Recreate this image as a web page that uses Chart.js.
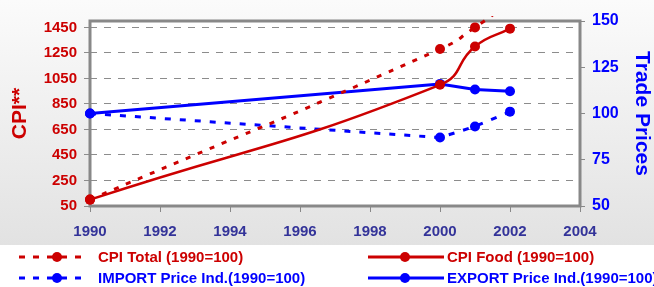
<!DOCTYPE html>
<html lang="en">
<head>
    <meta charset="UTF-8">
    <title>CPI and Trade Prices</title>
    <script src="https://cdn.jsdelivr.net/npm/chart.js"></script>
    <style>
        body {
            margin: 0;
            padding: 0;
            background: #ffffff;
        }
        .wrap {
            width: 654px;
            height: 287px;
        }
    </style>
</head>
<body>
    <div class="wrap">
        <canvas id="cpiChart" width="654" height="287"></canvas>
    </div>

    <script>
        // data
        const years = [1990, 2000, 2001, 2002];
        const cpiTotal = [100, 1280, 1450, 1650];
        const cpiFood = [100, 1000, 1300, 1440];
        const importPrice = [100, 87, 93, 101];
        const exportPrice = [100, 116, 113, 112];
        const cpiTicks = [50, 250, 450, 650, 850, 1050, 1250, 1450];

        const FONT = '"Liberation Sans", Arial, sans-serif';
        const RED = '#cc0000';
        const BLUE = '#0000ff';

        function points(values) {
            return years.map((y, i) => ({ x: y, y: values[i] }));
        }

        // background, white plot area and grey frame
        const framePlugin = {
            id: 'frame',
            beforeDraw(chart) {
                const ctx = chart.ctx;
                const g = ctx.createLinearGradient(0, 0, 0, 245);
                g.addColorStop(0, '#fbfbfb');
                g.addColorStop(1, '#e2e2e2');
                ctx.save();
                ctx.fillStyle = g;
                ctx.fillRect(0, 0, chart.width, 245);
                ctx.fillStyle = '#ffffff';
                ctx.fillRect(0, 245, chart.width, chart.height - 245);
                const a = chart.chartArea;
                ctx.fillRect(a.left, a.top, a.right - a.left, a.bottom - a.top);
                ctx.restore();
            },
            beforeDatasetsDraw(chart) {
                const ctx = chart.ctx;
                const a = chart.chartArea;
                ctx.save();
                ctx.strokeStyle = '#888888';
                ctx.lineWidth = 3;
                ctx.strokeRect(a.left, a.top, a.right - a.left, a.bottom - a.top);
                ctx.restore();
            }
        };

        // legend drawn by hand: two rows, two columns
        const legendPlugin = {
            id: 'legendRows',
            afterDraw(chart) {
                const ctx = chart.ctx;
                const items = [
                    { ds: 0, x0: 19, x1: 88, mx: 57, tx: 98, y: 257 },
                    { ds: 1, x0: 368, x1: 444, mx: 405, tx: 447, y: 257 },
                    { ds: 2, x0: 19, x1: 88, mx: 57, tx: 98, y: 278 },
                    { ds: 3, x0: 368, x1: 444, mx: 405, tx: 447, y: 278 }
                ];
                ctx.save();
                items.forEach(it => {
                    const ds = chart.data.datasets[it.ds];
                    ctx.strokeStyle = ds.borderColor;
                    ctx.fillStyle = ds.borderColor;
                    ctx.lineWidth = 3;
                    ctx.setLineDash(ds.borderDash ? [6, 8] : []);
                    ctx.beginPath();
                    ctx.moveTo(it.x0, it.y);
                    ctx.lineTo(it.x1, it.y);
                    ctx.stroke();
                    ctx.setLineDash([]);
                    ctx.beginPath();
                    ctx.arc(it.mx, it.y, 5, 0, Math.PI * 2);
                    ctx.fill();
                    ctx.font = 'bold 15px ' + FONT;
                    ctx.textBaseline = 'middle';
                    ctx.textAlign = 'left';
                    ctx.fillText(ds.label, it.tx, it.y + 1);
                });
                ctx.restore();
            }
        };

        const config = {
            type: 'line',
            data: {
                datasets: [
                    {
                        label: 'CPI Total (1990=100)',
                        data: points(cpiTotal),
                        yAxisID: 'yCpi',
                        borderColor: RED,
                        backgroundColor: RED,
                        borderWidth: 3,
                        borderDash: [5, 8],
                        tension: 0.6,
                        pointRadius: 5,
                        pointBorderWidth: 0,
                        clip: { left: 10, right: 10, bottom: 10, top: 5 }
                    },
                    {
                        label: 'CPI Food (1990=100)',
                        data: points(cpiFood),
                        yAxisID: 'yCpi',
                        borderColor: RED,
                        backgroundColor: RED,
                        borderWidth: 2.5,
                        tension: 0.5,
                        pointRadius: 5,
                        pointBorderWidth: 0,
                        clip: 10
                    },
                    {
                        label: 'IMPORT Price Ind.(1990=100)',
                        data: points(importPrice),
                        yAxisID: 'yTrade',
                        borderColor: BLUE,
                        backgroundColor: BLUE,
                        borderWidth: 3,
                        borderDash: [6, 9],
                        tension: 0,
                        pointRadius: 5,
                        pointBorderWidth: 0,
                        clip: 10
                    },
                    {
                        label: 'EXPORT Price Ind.(1990=100)',
                        data: points(exportPrice),
                        yAxisID: 'yTrade',
                        borderColor: BLUE,
                        backgroundColor: BLUE,
                        borderWidth: 3,
                        tension: 0,
                        pointRadius: 5,
                        pointBorderWidth: 0,
                        clip: 10
                    }
                ]
            },
            options: {
                responsive: false,
                animation: false,
                layout: {
                    padding: { top: 21, bottom: 41, left: 0, right: 0 }
                },
                plugins: {
                    legend: { display: false },
                    tooltip: { enabled: false }
                },
                scales: {
                    x: {
                        type: 'linear',
                        min: 1990,
                        max: 2004,
                        afterFit(scale) { scale.height = 40; },
                        border: { display: false },
                        grid: {
                            drawOnChartArea: false,
                            color: '#888888',
                            tickLength: 6
                        },
                        ticks: {
                            stepSize: 2,
                            padding: 11,
                            color: '#333399',
                            font: { family: FONT, size: 15, weight: 'bold' },
                            callback: v => String(v)
                        }
                    },
                    yCpi: {
                        type: 'linear',
                        position: 'left',
                        min: 50,
                        max: 1500,
                        afterBuildTicks(scale) {
                            scale.ticks = cpiTicks.map(v => ({ value: v }));
                        },
                        afterFit(scale) { scale.width = 90; },
                        border: { display: false, dash: [7, 7] },
                        grid: {
                            color: '#8c8c8c',
                            lineWidth: 1,
                            tickBorderDash: [],
                            tickLength: 6
                        },
                        ticks: {
                            padding: 7,
                            color: RED,
                            font: { family: FONT, size: 15, weight: 'bold' },
                            callback: v => String(v)
                        },
                        title: {
                            display: true,
                            text: 'CPI**',
                            color: RED,
                            font: { family: FONT, size: 21, weight: 'bold' },
                            padding: { top: 8, bottom: 0 }
                        }
                    },
                    yTrade: {
                        type: 'linear',
                        position: 'right',
                        min: 50,
                        max: 150,
                        afterFit(scale) { scale.width = 74; },
                        border: { display: false },
                        grid: {
                            drawOnChartArea: false,
                            color: '#888888',
                            tickLength: 5
                        },
                        ticks: {
                            stepSize: 25,
                            padding: 7,
                            color: BLUE,
                            font: { family: FONT, size: 16, weight: 'bold' }
                        },
                        title: {
                            display: true,
                            text: 'Trade Prices',
                            color: BLUE,
                            font: { family: FONT, size: 21, weight: 'bold' },
                            padding: { top: 0, bottom: 3 }
                        }
                    }
                }
            },
            plugins: [framePlugin, legendPlugin]
        };

        new Chart(document.getElementById('cpiChart'), config);
    </script>
</body>
</html>
